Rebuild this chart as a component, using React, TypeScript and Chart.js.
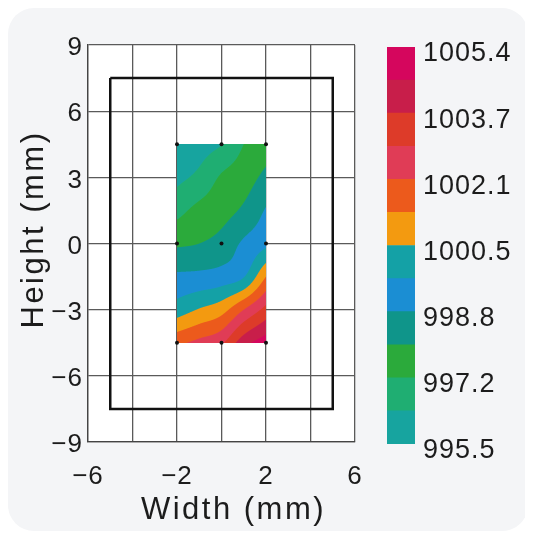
import React, { useEffect, useRef } from "react";
import { Chart, registerables } from "chart.js";

Chart.register(...registerables);

// ---- data ----
const gridX = [-2, -1, 0, 1, 2];
const gridY = [4.5, 3, 1.5, 0, -1.5, -3, -4.5];
const rowY45 = [995.6, 995.95, 996.3, 997.15, 997.55];
const rowY30 = [996.12, 996.53, 997.25, 997.6, 998.19];
const rowY15 = [996.9, 997.39, 997.68, 998.12, 998.87];
const rowY00 = [997.85, 997.975, 998.27, 998.93, 999.45];
const rowYm15 = [998.95, 999.02, 999.17, 999.58, 1001.275];
const rowYm30 = [1000.04, 1000.51, 1000.96, 1002.1, 1003.2];
const rowYm45 = [1001.91, 1002.34, 1002.8, 1004.27, 1005.05];
const fieldRows = [rowY45, rowY30, rowY15, rowY00, rowYm15, rowYm30, rowYm45];

const nodeX = [-2, 0, 2];
const nodeY = [4.5, 0, -4.5];

const outlineX = [-5, 5, 5, -5, -5];
const outlineY = [7.5, 7.5, -7.5, -7.5, 7.5];

const colorbarMin = 995.5;
const colorbarMax = 1005.4;
const bandColors = [
  "#17a49f",
  "#1fae72",
  "#2baa3b",
  "#0f958a",
  "#1b8ed3",
  "#14a1a6",
  "#f39a10",
  "#ec5a1c",
  "#e03c56",
  "#dd3b29",
  "#c81e4a",
  "#d5065d",
];
const colorbarTickValues = [995.5, 997.15, 998.8, 1000.45, 1002.1, 1003.75, 1005.4];
const colorbarTickLabels = ["995.5", "997.2", "998.8", "1000.5", "1002.1", "1003.7", "1005.4"];

const xLabelled = [-6, -2, 2, 6];

const FONT = "'Liberation Sans', Arial, Helvetica, sans-serif";
const TEXT = "#1c1c1c";

function nodeValue(j: number, i: number): number {
  const ny = fieldRows.length;
  const nx = fieldRows[0].length;
  if (j < 0) return 2 * nodeValue(0, i) - nodeValue(1, i);
  if (j >= ny) return 2 * nodeValue(ny - 1, i) - nodeValue(ny - 2, i);
  if (i < 0) return 2 * fieldRows[j][0] - fieldRows[j][1];
  if (i >= nx) return 2 * fieldRows[j][nx - 1] - fieldRows[j][nx - 2];
  return fieldRows[j][i];
}

function cubic(p0: number, p1: number, p2: number, p3: number, t: number): number {
  return (
    0.5 *
    (2 * p1 +
      (-p0 + p2) * t +
      (2 * p0 - 5 * p1 + 4 * p2 - p3) * t * t +
      (-p0 + 3 * p1 - 3 * p2 + p3) * t * t * t)
  );
}

function sampleField(vx: number, vy: number): number {
  let i = 0;
  while (i < gridX.length - 2 && vx > gridX[i + 1]) i++;
  let j = 0;
  while (j < gridY.length - 2 && vy < gridY[j + 1]) j++;
  const tx = Math.min(1, Math.max(0, (vx - gridX[i]) / (gridX[i + 1] - gridX[i])));
  const ty = Math.min(1, Math.max(0, (vy - gridY[j]) / (gridY[j + 1] - gridY[j])));
  const col: number[] = [];
  for (let r = -1; r <= 2; r++) {
    col.push(
      cubic(nodeValue(j + r, i - 1), nodeValue(j + r, i), nodeValue(j + r, i + 1), nodeValue(j + r, i + 2), tx)
    );
  }
  return cubic(col[0], col[1], col[2], col[3], ty);
}

function hexToRgb(h: string): number[] {
  const s = h.replace("#", "");
  return [parseInt(s.slice(0, 2), 16), parseInt(s.slice(2, 4), 16), parseInt(s.slice(4, 6), 16)];
}

const spacingPlugin = {
  id: "textSpacing",
  beforeLayout(chart: any) {
    chart.ctx.letterSpacing = "1px";
  },
  beforeDraw(chart: any) {
    chart.ctx.letterSpacing = "1px";
  },
  afterLayout(chart: any) {
    const ctx = chart.ctx;
    Object.values(chart.scales).forEach((scale: any) => {
      if (scale.__wrapped) return;
      scale.__wrapped = true;
      const orig = scale.drawTitle.bind(scale);
      scale.drawTitle = () => {
        ctx.save();
        ctx.letterSpacing = "2.5px";
        const shift = scale.options.titleShift || [0, 0];
        ctx.translate(shift[0], shift[1]);
        orig();
        ctx.restore();
      };
    });
  },
};

const plotBgPlugin = {
  id: "plotBg",
  beforeDraw(chart: any) {
    const { ctx, chartArea } = chart;
    ctx.save();
    ctx.fillStyle = "#ffffff";
    ctx.fillRect(chartArea.left, chartArea.top, chartArea.right - chartArea.left, chartArea.bottom - chartArea.top);
    ctx.restore();
  },
};

const contourPlugin = {
  id: "contourFill",
  beforeDatasetsDraw(chart: any) {
    const { ctx } = chart;
    const xs = chart.scales.x;
    const ys = chart.scales.y;
    const left = Math.round(xs.getPixelForValue(gridX[0]));
    const right = Math.round(xs.getPixelForValue(gridX[gridX.length - 1]));
    const top = Math.round(ys.getPixelForValue(gridY[0]));
    const bottom = Math.round(ys.getPixelForValue(gridY[gridY.length - 1]));
    const w = right - left;
    const h = bottom - top;
    if (w <= 0 || h <= 0) return;
    const n = bandColors.length;
    const step = (colorbarMax - colorbarMin) / n;
    const rgb = bandColors.map(hexToRgb);
    const S = 4;
    const subX: number[] = [];
    for (let k = 0; k < w * S; k++) subX.push(xs.getValueForPixel(left + (k + 0.5) / S));
    const subY: number[] = [];
    for (let k = 0; k < h * S; k++) subY.push(ys.getValueForPixel(top + (k + 0.5) / S));
    const img = ctx.createImageData(w, h);
    for (let py = 0; py < h; py++) {
      for (let px = 0; px < w; px++) {
        let r = 0, g = 0, b = 0;
        for (let sy = 0; sy < S; sy++) {
          const vy = subY[py * S + sy];
          for (let sx = 0; sx < S; sx++) {
            const v = sampleField(subX[px * S + sx], vy);
            const band = Math.min(n - 1, Math.max(0, Math.floor((v - colorbarMin) / step)));
            const c = rgb[band];
            r += c[0];
            g += c[1];
            b += c[2];
          }
        }
        const idx = (py * w + px) * 4;
        img.data[idx] = Math.round(r / (S * S));
        img.data[idx + 1] = Math.round(g / (S * S));
        img.data[idx + 2] = Math.round(b / (S * S));
        img.data[idx + 3] = 255;
      }
    }
    ctx.putImageData(img, left, top);
  },
};

export default function App() {
  const mainRef = useRef<HTMLCanvasElement | null>(null);
  const barRef = useRef<HTMLCanvasElement | null>(null);

  useEffect(() => {
    const nodes: { x: number; y: number }[] = [];
    nodeY.forEach((y) => nodeX.forEach((x) => nodes.push({ x, y })));
    const outline = outlineX.map((x, i) => ({ x, y: outlineY[i] }));

    const main = new Chart(mainRef.current as HTMLCanvasElement, {
      type: "scatter",
      data: {
        datasets: [
          {
            data: outline,
            showLine: true,
            borderColor: "#111111",
            borderWidth: 2.5,
            pointRadius: 0,
            fill: false,
          } as any,
          {
            data: nodes,
            pointRadius: 2,
            backgroundColor: "#111111",
            borderWidth: 0,
          } as any,
        ],
      },
      options: {
        animation: false,
        responsive: false,
        events: [],
        layout: { padding: { top: 37, right: 33, left: 0, bottom: 0 } },
        plugins: { legend: { display: false }, tooltip: { enabled: false } },
        scales: {
          x: {
            type: "linear",
            min: -6,
            max: 6,
            titleShift: [12, 0],
            afterFit: (s: any) => {
              s.height = 89;
            },
            ticks: {
              stepSize: 2,
              autoSkip: false,
              maxRotation: 0,
              padding: 19,
              color: TEXT,
              font: { family: FONT, size: 26 },
              callback: (v: any) => (xLabelled.includes(Number(v)) ? String(v).replace("-", "\u2212") : ""),
            },
            grid: { color: "#5a5a5a", lineWidth: 1.3, drawTicks: false },
            border: { color: "#444444", width: 1.3 },
            title: {
              display: true,
              text: "Width (mm)",
              color: TEXT,
              font: { family: FONT, size: 31 },
              padding: { top: 0, bottom: 2 },
            },
          } as any,
          y: {
            type: "linear",
            min: -9,
            max: 9,
            titleShift: [0, -14],
            afterFit: (s: any) => {
              s.width = 80;
            },
            ticks: {
              stepSize: 3,
              autoSkip: false,
              padding: 5,
              labelOffset: 3,
              color: TEXT,
              font: { family: FONT, size: 26 },
              callback: (v: any) => String(v).replace("-", "\u2212"),
            },
            grid: { color: "#5a5a5a", lineWidth: 1.3, drawTicks: false },
            border: { color: "#444444", width: 1.3 },
            title: {
              display: true,
              text: "Height (mm)",
              color: TEXT,
              font: { family: FONT, size: 31 },
              padding: { top: 8, bottom: 0 },
            },
          } as any,
        },
      },
      plugins: [spacingPlugin, plotBgPlugin, contourPlugin],
    });

    const n = bandColors.length;
    const step = (colorbarMax - colorbarMin) / n;
    const bar = new Chart(barRef.current as HTMLCanvasElement, {
      type: "bar",
      data: {
        labels: [""],
        datasets: bandColors.map((c, i) => ({
          data: [[colorbarMin + i * step, colorbarMin + (i + 1) * step]] as any,
          backgroundColor: c,
          borderColor: c,
          borderWidth: 0,
          barPercentage: 1,
          categoryPercentage: 1,
          grouped: false,
        })),
      },
      options: {
        animation: false,
        responsive: false,
        events: [],
        layout: { padding: { top: 39, left: 7, bottom: 87, right: 0 } },
        plugins: { legend: { display: false }, tooltip: { enabled: false } },
        scales: {
          x: { display: false },
          y: {
            position: "right",
            min: colorbarMin,
            max: colorbarMax,
            afterBuildTicks: (s: any) => {
              s.ticks = colorbarTickValues.map((v) => ({ value: v }));
            },
            afterFit: (s: any) => {
              s.width = 113;
            },
            ticks: {
              autoSkip: false,
              padding: 8,
              labelOffset: 7,
              color: TEXT,
              font: { family: FONT, size: 27 },
              callback: (_v: any, i: number) => colorbarTickLabels[i],
            },
            grid: { display: false, drawTicks: false },
            border: { display: false },
          },
        },
      },
      plugins: [spacingPlugin],
    });

    return () => {
      main.destroy();
      bar.destroy();
    };
  }, []);

  return (
    <div
      style={{
        position: "relative",
        width: 520,
        height: 523,
        borderRadius: 26,
        background: "#f4f5f7",
        overflow: "hidden",
      }}
    >
      <canvas
        ref={mainRef}
        width={380}
        height={523}
        style={{ position: "absolute", left: 0, top: 0, display: "block" }}
      />
      <canvas
        ref={barRef}
        width={148}
        height={523}
        style={{ position: "absolute", left: 372, top: 0, display: "block" }}
      />
    </div>
  );
}
